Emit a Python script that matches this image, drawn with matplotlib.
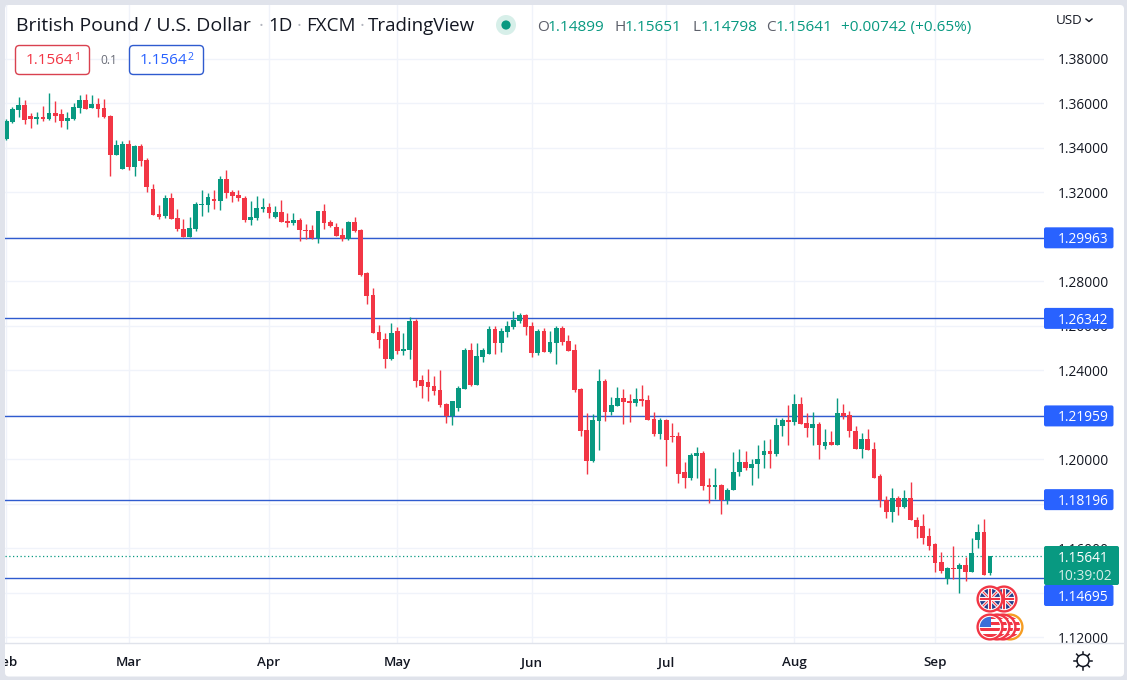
"""
GBP/USD daily candles in the TradingView layout
"""
import numpy as np
import matplotlib
matplotlib.use("Agg")
import matplotlib.pyplot as plt
from matplotlib.patches import Circle, FancyBboxPatch, Rectangle

W, H = 1127, 680
UP = '#089981'
DOWN = '#f23645'
BLUE = '#2962ff'
LINE_BLUE = '#2f5bcf'
GRID = '#f0f3fa'
TEXT = '#131722'
FONT = ['Open Sans', 'DejaVu Sans']

# open, high, low, close for every day since Feb 1
OHLC = [
    (1.3440,1.3529,1.3435,1.3523),(1.3517,1.3586,1.3514,1.3575),(1.3571,1.3628,1.3541,1.3593),(1.3593,1.3616,1.3508,1.3526),
    (1.3544,1.3556,1.3490,1.3532),(1.3532,1.3563,1.3508,1.3539),(1.3539,1.3589,1.3523,1.3530),(1.3530,1.3646,1.3526,1.3557),
    (1.3557,1.3610,1.3518,1.3544),(1.3553,1.3575,1.3496,1.3521),(1.3523,1.3563,1.3487,1.3535),(1.3530,1.3601,1.3527,1.3584),
    (1.3580,1.3638,1.3559,1.3616),(1.3616,1.3643,1.3575,1.3575),(1.3580,1.3638,1.3580,1.3596),(1.3598,1.3623,1.3541,1.3575),
    (1.3580,1.3620,1.3536,1.3539),(1.3544,1.3548,1.3273,1.3368),(1.3368,1.3438,1.3368,1.3413),(1.3305,1.3431,1.3305,1.3417),
    (1.3417,1.3438,1.3300,1.3314),(1.3314,1.3413,1.3273,1.3408),(1.3408,1.3417,1.3319,1.3341),(1.3346,1.3355,1.3202,1.3224),
    (1.3215,1.3237,1.3098,1.3098),(1.3103,1.3143,1.3080,1.3089),(1.3094,1.3188,1.3087,1.3175),(1.3175,1.3197,1.3080,1.3080),
    (1.3085,1.3125,1.3026,1.3035),(1.3035,1.3080,1.2999,1.2999),(1.2999,1.3089,1.2999,1.3040),(1.3035,1.3157,1.3026,1.3148),
    (1.3143,1.3211,1.3094,1.3148),(1.3143,1.3197,1.3112,1.3179),(1.3170,1.3211,1.3125,1.3161),(1.3161,1.3273,1.3121,1.3260),
    (1.3260,1.3300,1.3175,1.3197),(1.3201,1.3211,1.3157,1.3184),(1.3188,1.3211,1.3161,1.3175),(1.3175,1.3184,1.3067,1.3076),
    (1.3076,1.3161,1.3053,1.3089),(1.3085,1.3184,1.3076,1.3130),(1.3125,1.3175,1.3112,1.3134),(1.3134,1.3152,1.3085,1.3107),
    (1.3089,1.3139,1.3085,1.3112),(1.3112,1.3166,1.3067,1.3067),(1.3071,1.3107,1.3044,1.3062),(1.3062,1.3107,1.3053,1.3076),
    (1.3076,1.3085,1.2981,1.3031),(1.3032,1.3058,1.2990,1.3027),(1.3031,1.3053,1.2990,1.2995),(1.2995,1.3116,1.2972,1.3116),
    (1.3116,1.3148,1.3035,1.3062),(1.3067,1.3076,1.3044,1.3049),(1.3044,1.3062,1.3003,1.3003),(1.3008,1.3039,1.2981,1.2990),
    (1.2990,1.3071,1.2986,1.3067),(1.3067,1.3089,1.3022,1.3026),(1.3032,1.3036,1.2825,1.2829),(1.2838,1.2841,1.2699,1.2735),
    (1.2739,1.2769,1.2568,1.2568),(1.2573,1.2604,1.2501,1.2537),(1.2541,1.2568,1.2411,1.2451),(1.2451,1.2613,1.2447,1.2568),
    (1.2577,1.2595,1.2474,1.2487),(1.2487,1.2568,1.2469,1.2496),(1.2492,1.2639,1.2451,1.2622),(1.2622,1.2631,1.2325,1.2352),
    (1.2357,1.2379,1.2276,1.2330),(1.2348,1.2406,1.2262,1.2325),(1.2330,1.2375,1.2289,1.2307),(1.2312,1.2402,1.2235,1.2244),
    (1.2249,1.2253,1.2163,1.2195),(1.2195,1.2262,1.2154,1.2262),(1.2231,1.2330,1.2217,1.2321),(1.2316,1.2501,1.2316,1.2492),
    (1.2492,1.2523,1.2330,1.2334),(1.2334,1.2523,1.2334,1.2465),(1.2460,1.2501,1.2438,1.2492),(1.2474,1.2600,1.2474,1.2586),
    (1.2586,1.2600,1.2474,1.2523),(1.2523,1.2591,1.2483,1.2577),(1.2573,1.2622,1.2550,1.2600),(1.2595,1.2667,1.2586,1.2627),
    (1.2622,1.2658,1.2613,1.2649),(1.2649,1.2654,1.2559,1.2595),(1.2600,1.2618,1.2460,1.2478),(1.2478,1.2586,1.2469,1.2577),
    (1.2577,1.2591,1.2483,1.2483),(1.2483,1.2577,1.2478,1.2528),(1.2523,1.2600,1.2429,1.2591),(1.2591,1.2600,1.2514,1.2528),
    (1.2532,1.2559,1.2487,1.2487),(1.2492,1.2519,1.2303,1.2312),(1.2316,1.2321,1.2105,1.2127),(1.2132,1.2208,1.1934,1.1992),
    (1.1992,1.2204,1.1988,1.2177),(1.2172,1.2406,1.2042,1.2352),(1.2352,1.2361,1.2172,1.2213),(1.2213,1.2280,1.2199,1.2244),
    (1.2240,1.2325,1.2240,1.2276),(1.2276,1.2316,1.2159,1.2258),(1.2262,1.2294,1.2168,1.2253),(1.2253,1.2321,1.2240,1.2271),
    (1.2271,1.2334,1.2240,1.2262),(1.2266,1.2288,1.2176,1.2176),(1.2180,1.2212,1.2104,1.2113),(1.2113,1.2185,1.2090,1.2176),
    (1.2176,1.2180,1.1973,1.2086),(1.2104,1.2162,1.2077,1.2099),(1.2104,1.2122,1.1896,1.1937),(1.1942,1.1987,1.1874,1.1915),
    (1.1915,1.2027,1.1906,1.2018),(1.2014,1.2054,1.1919,1.2027),(1.2027,1.2036,1.1865,1.1883),(1.1887,1.1915,1.1806,1.1878),
    (1.1878,1.1964,1.1824,1.1887),(1.1887,1.1892,1.1757,1.1816),(1.1816,1.1874,1.1802,1.1865),(1.1861,1.2032,1.1861,1.1946),
    (1.1942,1.2045,1.1924,1.1991),(1.1991,1.2036,1.1951,1.1960),(1.1960,1.2000,1.1887,1.1982),(1.1978,1.2063,1.1915,1.2000),
    (1.2018,1.2086,1.1960,1.2036),(1.2036,1.2090,1.1960,1.2023),(1.2023,1.2185,1.2014,1.2153),(1.2149,1.2185,1.2104,1.2176),
    (1.2176,1.2243,1.2063,1.2167),(1.2167,1.2293,1.2153,1.2248),(1.2248,1.2279,1.2158,1.2158),(1.2162,1.2207,1.2099,1.2140),
    (1.2140,1.2212,1.2063,1.2158),(1.2158,1.2167,1.2000,1.2063),(1.2059,1.2135,1.2045,1.2077),(1.2077,1.2126,1.2063,1.2067),
    (1.2067,1.2275,1.2063,1.2207),(1.2207,1.2248,1.2180,1.2194),(1.2198,1.2216,1.2099,1.2126),(1.2130,1.2149,1.2045,1.2045),
    (1.2045,1.2117,1.2005,1.2090),(1.2090,1.2139,1.2041,1.2041),(1.2045,1.2077,1.1919,1.1919),(1.1924,1.1933,1.1788,1.1816),
    (1.1820,1.1834,1.1739,1.1762),(1.1762,1.1874,1.1717,1.1829),(1.1829,1.1838,1.1752,1.1788),(1.1788,1.1861,1.1780,1.1825),
    (1.1825,1.1901,1.1730,1.1730),(1.1726,1.1743,1.1645,1.1698),(1.1703,1.1757,1.1618,1.1649),(1.1654,1.1690,1.1595,1.1613),
    (1.1618,1.1625,1.1496,1.1537),(1.1541,1.1586,1.1492,1.1501),(1.1465,1.1519,1.1442,1.1514),(1.1514,1.1609,1.1465,1.1510),
    (1.1510,1.1537,1.1402,1.1528),(1.1528,1.1560,1.1456,1.1496),(1.1496,1.1645,1.1496,1.1582),(1.1636,1.1708,1.1600,1.1676),
    (1.1676,1.1734,1.1483,1.1483),(1.14899,1.15651,1.14798,1.15641),
]
LEVELS = [1.29963, 1.26342, 1.21959, 1.18196, 1.14695]
LAST = 1.15641
MONTHS = {0: 'Feb', 20: 'Mar', 43: 'Apr', 64: 'May', 86: 'Jun', 108: 'Jul', 129: 'Aug', 152: 'Sep'}

# where the price pane sits on the canvas
PANE_L, PANE_R, PANE_T, PANE_B = 5, 1044, 5, 643


def draw_candles(ax):
    data = np.array(OHLC)
    x = np.arange(len(data))
    o, h, l, c = data.T
    colors = np.where(c >= o, UP, DOWN)
    ax.vlines(x, l, h, colors=colors, lw=1.0, zorder=3)
    ax.bar(x, np.maximum(np.abs(c - o), 0.0002), bottom=np.minimum(o, c), width=0.78,
           color=colors, linewidth=0, zorder=4)


def uk_flag(ov, cx, cy, r, z):
    clip = Circle((cx, cy), r, transform=ov.transData)
    ov.add_patch(Circle((cx, cy), r, fc='#24408e', ec='none', zorder=z))
    for dx, dy, col, lw in [(1, 1, 'white', 2.2), (1, -1, 'white', 2.2), (1, 1, DOWN, 0.8), (1, -1, DOWN, 0.8),
                            (1, 0, 'white', 3.0), (0, 1, 'white', 3.0), (1, 0, DOWN, 1.5), (0, 1, DOWN, 1.5)]:
        ln, = ov.plot([cx - dx * r, cx + dx * r], [cy - dy * r, cy + dy * r], color=col, lw=lw, zorder=z + 0.1)
        ln.set_clip_path(clip)
    ov.add_patch(Circle((cx, cy), r, fc='none', ec='white', lw=1.2, zorder=z + 0.2))
    ov.add_patch(Circle((cx, cy), r + 1.4, fc='none', ec=DOWN, lw=1.7, zorder=z + 0.3))


def us_flag(ov, cx, cy, r, z, ring=DOWN):
    clip = Circle((cx, cy), r, transform=ov.transData)
    ov.add_patch(Circle((cx, cy), r, fc='white', ec='none', zorder=z))
    for k in range(4):
        st = Rectangle((cx - r, cy - r + k * 2 * r / 3.6), 2 * r, r / 3.6, fc=DOWN, ec='none', zorder=z + 0.1)
        ov.add_patch(st)
        st.set_clip_path(clip)
    canton = Rectangle((cx - r, cy - r), r * 1.05, r * 1.0, fc='#3c6fd8', ec='none', zorder=z + 0.15)
    ov.add_patch(canton)
    canton.set_clip_path(clip)
    ov.add_patch(Circle((cx, cy), r, fc='none', ec='white', lw=1.2, zorder=z + 0.2))
    ov.add_patch(Circle((cx, cy), r + 1.4, fc='none', ec=ring, lw=1.7, zorder=z + 0.3))


def price_tag(ov, y, text, color=BLUE):
    ov.add_patch(FancyBboxPatch((PANE_R, y - 10.5), 69.5, 21, boxstyle='round,pad=0,rounding_size=2',
                                fc=color, ec='none', zorder=3))
    ov.text(1058, y, text, color='white', fontsize=9.9, va='center_baseline', ha='left', family=FONT, zorder=4)


def main():
    plt.rcParams['font.family'] = FONT
    fig = plt.figure(figsize=(W / 100, H / 100), dpi=100, facecolor='#e0e3eb')

    # white rounded sheet behind everything
    bg = fig.add_axes([0, 0, 1, 1], zorder=0)
    bg.set_xlim(0, W)
    bg.set_ylim(H, 0)
    bg.axis('off')
    bg.add_patch(FancyBboxPatch((5, 5), 1119, 671.5, boxstyle='round,pad=0,rounding_size=4', fc='white', ec='none'))

    ax = fig.add_axes([PANE_L / W, 1 - PANE_B / H, (PANE_R - PANE_L) / W, (PANE_B - PANE_T) / H], zorder=1)
    ax.patch.set_alpha(0)
    # 6.11 px per day, Feb 1 at 6.3 px
    ax.set_xlim((PANE_L - 6.3) / 6.11, (PANE_R - 6.3) / 6.11)
    ax.set_ylim(1.38 - (PANE_B - 59) / 2225, 1.38 + (59 - PANE_T) / 2225)
    for s in ax.spines.values():
        s.set_visible(False)

    ax.set_yticks(np.arange(1.12, 1.381, 0.02))
    ax.set_yticklabels(['%.5f' % v for v in np.arange(1.12, 1.381, 0.02)])
    ax.yaxis.tick_right()
    ax.tick_params(axis='y', length=0, pad=10, labelsize=9.9, labelcolor=TEXT)
    ax.set_xticks(list(MONTHS.keys()))
    ax.set_xticklabels(list(MONTHS.values()), fontweight='semibold')
    ax.tick_params(axis='x', length=0, pad=9.6, labelsize=9.6, labelcolor=TEXT)
    ax.grid(True, color=GRID, lw=1.0, zorder=0)
    ax.set_axisbelow(True)

    for lv in LEVELS:
        ax.axhline(lv, color=LINE_BLUE, lw=1.0, zorder=2)
    ax.axhline(LAST, color=UP, lw=0.9, ls=(0, (1, 2)), zorder=2)
    draw_candles(ax)

    # everything that sits over the pane, in canvas pixels
    ov = fig.add_axes([0, 0, 1, 1], zorder=2)
    ov.set_xlim(0, W)
    ov.set_ylim(H, 0)
    ov.axis('off')
    ov.patch.set_alpha(0)
    ov.add_patch(Rectangle((0, 0), 5, H, fc='#e0e3eb', ec='none', zorder=1))
    ov.plot([5, 1124], [643.3, 643.3], color='#e0e3eb', lw=1.0, zorder=1)

    # legend row
    ov.text(16, 26, 'British Pound / U.S. Dollar', color=TEXT, fontsize=14, va='center', ha='left', zorder=5)
    for x, s, col in [(259, '·', '#b2b5be'), (268, '1D', TEXT), (297, '·', '#b2b5be'), (306, 'FXCM', TEXT),
                      (360, '·', '#b2b5be'), (368, 'TradingView', TEXT)]:
        ov.text(x, 26, s, color=col, fontsize=13.5, va='center', ha='left', zorder=5)
    ov.add_patch(Circle((506, 25), 10, fc='#d7efe9', ec='none', zorder=5))
    ov.add_patch(Circle((506, 25), 4.6, fc=UP, ec='none', zorder=6))
    for x, lab, val, off in [(537, 'O', '1.14899', 10.5), (615, 'H', '1.15651', 10), (692, 'L', '1.14798', 8.5), (766, 'C', '1.15641', 9.5)]:
        ov.text(x, 27.5, lab, color='#5d606b', fontsize=11.1, va='center', ha='left', zorder=5)
        ov.text(x + off, 27.5, val, color=UP, fontsize=11.1, va='center', ha='left', zorder=5)
    ov.text(841, 27.5, '+0.00742 (+0.65%)', color=UP, fontsize=11.1, va='center', ha='left', zorder=5)

    ov.text(1056, 21, 'USD', color=TEXT, fontsize=9.6, va='center', ha='left', zorder=5)
    ov.plot([1086, 1089, 1092], [19, 21.5, 19], color=TEXT, lw=1.0, zorder=5)

    # the two bid/ask chips
    ov.add_patch(FancyBboxPatch((15.5, 45.5), 74, 29, boxstyle='round,pad=0,rounding_size=4', fc='white', ec='#d9414f', lw=1.0, zorder=5))
    ov.text(26, 61, '1.1564', color=DOWN, fontsize=11, va='center', ha='left', zorder=6)
    ov.text(74, 58, '1', color=DOWN, fontsize=7.6, va='center', ha='left', zorder=6)
    ov.text(100, 60.5, '0.1', color='#6a6d78', fontsize=8.6, va='center', ha='left', zorder=6)
    ov.add_patch(FancyBboxPatch((129.5, 45.5), 74, 29, boxstyle='round,pad=0,rounding_size=4', fc='white', ec='#2f5bcf', lw=1.0, zorder=5))
    ov.text(140, 61, '1.1564', color=BLUE, fontsize=11, va='center', ha='left', zorder=6)
    ov.text(188, 58, '2', color=BLUE, fontsize=7.6, va='center', ha='left', zorder=6)

    # level tags and the live price box
    for lv in LEVELS[:-1]:
        price_tag(ov, 59 + (1.38 - lv) * 2225, '%.5f' % lv)
    price_tag(ov, 595.5, '%.5f' % LEVELS[-1])
    ov.add_patch(FancyBboxPatch((PANE_R, 546), 75, 39, boxstyle='round,pad=0,rounding_size=2', fc=UP, ec='none', zorder=3))
    ov.text(1058, 557, '%.5f' % LAST, color='white', fontsize=9.9, va='center_baseline', ha='left', zorder=4)
    ov.text(1058, 575, '10:39:02', color='#d5eee8', fontsize=9.9, va='center_baseline', ha='left', zorder=4)

    # event markers, back to front
    uk_flag(ov, 1004, 599, 11, 7)
    uk_flag(ov, 990, 599, 11, 8)
    us_flag(ov, 1010, 627, 11, 7, ring='#f59d23')
    us_flag(ov, 1003, 627, 11, 8)
    us_flag(ov, 997, 627, 11, 9)
    us_flag(ov, 990, 627, 11, 10)

    # theme icon
    ov.add_patch(Circle((1083, 660.5), 6, fc='none', ec=TEXT, lw=1.1, zorder=5))
    for a in np.arange(0, 2 * np.pi, np.pi / 4):
        ov.plot([1083 + 6.5 * np.cos(a), 1083 + 9 * np.cos(a)], [660.5 + 6.5 * np.sin(a), 660.5 + 9 * np.sin(a)],
                color=TEXT, lw=1.1, zorder=5)

    fig.savefig('out.png', dpi=100, facecolor=fig.get_facecolor())


if __name__ == "__main__":
    main()
